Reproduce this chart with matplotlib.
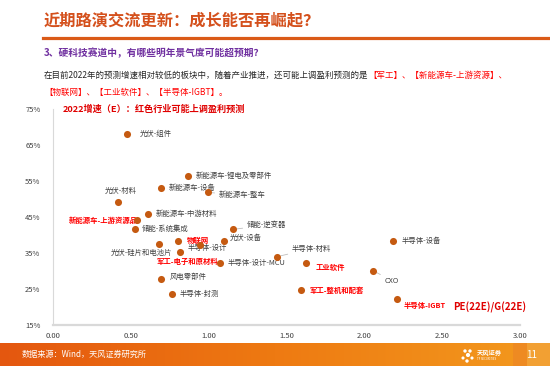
import matplotlib
matplotlib.use("Agg")
import matplotlib.pyplot as plt
import numpy as np
from matplotlib.ticker import PercentFormatter, FormatStrFormatter

plt.rcParams['font.family'] = ['Noto Sans CJK SC', 'DejaVu Sans']

W, H = 550, 366

# data
sectors = ['光伏-组件', '新能源车-锂电及零部件', '新能源车-设备', '新能源车-整车', '光伏-材料',
           '新能源车-中游材料', '新能源车-上游资源品', '储能-系统集成', '储能-逆变器', '光伏-设备',
           '物联网', '光伏-硅片和电池片', '半导体-设计', '军工-电子和原材料', '半导体-设计-MCU',
           '半导体-材料', '工业软件', '半导体-设备', 'CXO', '风电零部件', '半导体-封测',
           '军工-整机和配套', '半导体-IGBT']
pe_g = [0.474, 0.868, 0.692, 0.994, 0.420, 0.612, 0.537, 0.527, 1.155, 1.099,
        0.805, 0.681, 0.816, 0.945, 1.073, 1.438, 1.626, 2.187, 2.058, 0.696,
        0.767, 1.594, 2.211]
growth = [68.1, 56.4, 53.1, 51.9, 49.1, 46.0, 44.1, 41.8, 41.6, 38.4,
          38.4, 37.4, 35.4, 37.3, 32.2, 34.0, 32.3, 38.4, 30.1, 27.9,
          23.7, 24.7, 22.3]
highlight = ['新能源车-上游资源品', '物联网', '军工-电子和原材料', '工业软件', '军工-整机和配套', '半导体-IGBT']

# label placement: (dx px, dy px down, ha, leader line)
label_pos = [(13, 0, 'left', False), (8, 0, 'left', False), (8, 0, 'left', False), (11, 3, 'left', True),
             (2, -11, 'center', True), (7, 0, 'left', False), (1, 0, 'right', False), (7, 0, 'left', False),
             (14, -4, 'left', True), (6, -3, 'left', False), (9, -1, 'left', False), (13, 9, 'right', False),
             (8, -4, 'left', True), (18, 17, 'right', False), (8, 0, 'left', False), (15, -8, 'left', True),
             (10, 5, 'left', False), (8, 0, 'left', False), (11, 10, 'left', True), (8, -2, 'left', False),
             (7, 0, 'left', False), (8, 0, 'left', False), (6, 7, 'left', True)]

RED = '#FF0000'
ORANGE = '#D4501C'
MARK = '#C55A11'


def fx(x):
    return x / W


def fy(y):
    return 1 - y / H


fig = plt.figure(figsize=(5.5, 3.66), dpi=100)
fig.patch.set_facecolor('white')

# header
fig.text(fx(44), fy(20), '近期路演交流更新：成长能否再崛起？', color=ORANGE, fontsize=11.7,
         fontweight='bold', va='center', ha='left')
fig.add_artist(plt.Line2D([fx(43), 1], [fy(38), fy(38)], color='#DA5A17', lw=2.3))
fig.text(fx(44), fy(53), '3、硬科技赛道中，有哪些明年景气度可能超预期？', color='#7030A0', fontsize=7.0,
         fontweight='bold', va='center', ha='left')

t1 = fig.text(fx(44), fy(75), '在目前2022年的预测增速相对较低的板块中，随着产业推进，还可能上调盈利预测的是',
              color='#262626', fontsize=6.1, va='center', ha='left')
fig.canvas.draw()
bb = t1.get_window_extent()
fig.text(bb.x1 / fig.bbox.width, fy(75), '【军工】、【新能源车-上游资源】、', color=RED, fontsize=6.1,
         va='center', ha='left')
fig.text(fx(44), fy(92), '【物联网】、【工业软件】、【半导体-IGBT】。', color=RED, fontsize=6.1,
         va='center', ha='left')

# chart
ax = fig.add_axes([fx(53), fy(325), (520 - 53) / W, (325 - 109.3) / H])
ax.set_xlim(0, 3)
ax.set_ylim(15, 75)
ax.scatter(pe_g, growth, s=26, color=MARK, zorder=3, linewidths=0)

for i, name in enumerate(sectors):
    dx, dy, ha, leader = label_pos[i]
    is_red = name in highlight
    kw = dict(xy=(pe_g[i], growth[i]), xytext=(dx * 0.72, -dy * 0.72), textcoords='offset points',
              ha=ha, va='center', fontsize=5.3, zorder=2,
              color=RED if is_red else '#404040', fontweight='bold' if is_red else 'normal')
    if leader:
        kw['arrowprops'] = dict(arrowstyle='-', color='#BFBFBF', lw=0.6, shrinkA=1, shrinkB=3)
    ax.annotate(name, **kw)

ax.set_xticks(np.arange(0, 3.01, 0.5))
ax.set_yticks(np.arange(15, 76, 10))
ax.xaxis.set_major_formatter(FormatStrFormatter('%.2f'))
ax.yaxis.set_major_formatter(PercentFormatter(decimals=0))
ax.tick_params(length=0, labelsize=5.5, labelcolor='#404040')
ax.tick_params(axis='y', pad=9)
ax.tick_params(axis='x', pad=5)
for s in ['top', 'right']:
    ax.spines[s].set_visible(False)
ax.spines['left'].set_color('#D9D9D9')
ax.spines['left'].set_linewidth(0.8)
ax.spines['bottom'].set_color('#D9D9D9')
ax.spines['bottom'].set_linewidth(1.6)
ax.set_facecolor('none')

ax.text(0.02, 1.0, '2022增速（E）：红色行业可能上调盈利预测', transform=ax.transAxes, color='#E00000',
        fontsize=6.6, fontweight='bold', va='center', ha='left')
fig.text(fx(453), fy(307), 'PE(22E)/G(22E)', color='#E00000', fontsize=7, fontweight='bold',
         va='center', ha='left')

# footer band
fax = fig.add_axes([0, 0, 1, 23 / H])
grad = np.linspace(0, 1, 256).reshape(1, -1)
cmap = matplotlib.colors.LinearSegmentedColormap.from_list('band', ['#E4570F', '#EE7A12', '#F39A1E'])
fax.imshow(grad, aspect='auto', cmap=cmap, extent=[0, W, 0, 23])
fax.add_patch(plt.Rectangle((513, 0), 37, 23, color='#F2A033', lw=0))
fax.add_patch(plt.Rectangle((513, 0), 14, 23, color='#EE8A22', lw=0))
fax.set_xlim(0, W)
fax.set_ylim(0, 23)
fax.axis('off')
fax.text(22, 11.5, '数据来源：Wind，天风证券研究所', color='white', fontsize=5.9, va='center', ha='left')
fax.text(532, 11.5, '11', color='white', fontsize=7, va='center', ha='center')
fax.scatter([465, 470, 468, 463, 472, 467], [15, 15, 11, 8, 8, 5], s=[6, 6, 9, 5, 5, 6],
            color='white', marker='o', linewidths=0)
fax.text(477, 13, '天风证券', color='white', fontsize=4.5, fontweight='bold', va='center', ha='left')
fax.text(477, 6.5, 'TF SECURITIES', color='white', fontsize=2, va='center', ha='left')

fig.savefig('out.png', dpi=100)
